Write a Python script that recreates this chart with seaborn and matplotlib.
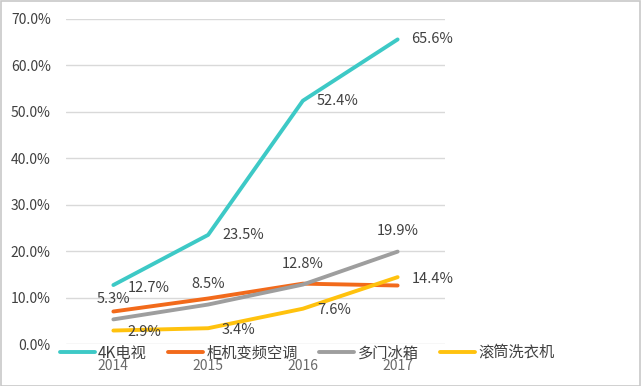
import matplotlib
matplotlib.use("Agg")
import matplotlib.pyplot as plt
import seaborn as sns
import pandas as pd
from matplotlib.lines import Line2D
from matplotlib.patches import Rectangle

years = ["2014", "2015", "2016", "2017"]
series_names = ["4K电视", "柜机变频空调", "多门冰箱", "滚筒洗衣机"]
tv_4k = [12.7, 23.5, 52.4, 65.6]
ac_inverter = [7.0, 9.8, 13.0, 12.6]
fridge_multi = [5.3, 8.5, 12.8, 19.9]
washer_drum = [2.9, 3.4, 7.6, 14.4]
y_ticks = [0, 10, 20, 30, 40, 50, 60, 70]

colors = ["#3DC9C6", "#F26A1B", "#9E9E9E", "#FFC20E"]
values = [tv_4k, ac_inverter, fridge_multi, washer_drum]

rows = []
for name, vals in zip(series_names, values):
    for i, (y, v) in enumerate(zip(years, vals)):
        rows.append({"year": i, "series": name, "value": v / 100})
df = pd.DataFrame(rows)

sns.set_theme(style="white")
plt.rcParams["font.family"] = ["Noto Sans CJK SC", "DejaVu Sans"]

fig = plt.figure(figsize=(6.41, 3.86), dpi=100)
ax = fig.add_axes([66 / 641, (386 - 344) / 386, (445 - 66) / 641, (344 - 19) / 386])

sns.lineplot(data=df, x="year", y="value", hue="series", hue_order=series_names,
             palette=colors, linewidth=2.8, ax=ax, legend=False, sort=False)

ax.set_xlim(-0.5, 3.5)
ax.set_ylim(0, 0.7)
ax.set_yticks([t / 100 for t in y_ticks])
ax.set_yticklabels([f"{t:.1f}%" for t in y_ticks], fontsize=10, color="#404040")
ax.set_xticks(range(len(years)))
ax.set_xticklabels(years, fontsize=10, color="#6a6a6a")
ax.tick_params(axis="y", length=0, pad=11)
ax.tick_params(axis="x", length=0, pad=11)
ax.set_xlabel("")
ax.set_ylabel("")
for s in ax.spines.values():
    s.set_visible(False)
ax.yaxis.grid(True, color="#d9d9d9", linewidth=1)
ax.set_axisbelow(True)

lbl_color = "#404040"
# 4K labels: right of point
for i, v in enumerate(tv_4k):
    dy = -2 if i == 0 else 0
    ax.annotate(f"{v:.1f}%", (i, v / 100), xytext=(10, dy), textcoords="offset points",
                ha="left", va="center", fontsize=10.5, color=lbl_color)
# multi-door fridge labels: above point
for i, v in enumerate(fridge_multi):
    ax.annotate(f"{v:.1f}%", (i, v / 100), xytext=(0, 15), textcoords="offset points",
                ha="center", va="center", fontsize=10.5, color=lbl_color)
# drum washer labels: right of point
for i, v in enumerate(washer_drum):
    ax.annotate(f"{v:.1f}%", (i, v / 100), xytext=(10, -1), textcoords="offset points",
                ha="left", va="center", fontsize=10.5, color=lbl_color)

handles = [Line2D([0], [0], color=c, lw=2.8) for c in colors]
fig.legend(handles, series_names, loc="center left", bbox_to_anchor=(52 / 641, (386 - 353) / 386),
           ncol=4, frameon=False, fontsize=11, handlelength=2.3, handletextpad=0.2,
           columnspacing=1.4, borderpad=0, labelcolor="#404040")

fig.patches.append(Rectangle((0.001, 0.001), 0.997, 0.997, transform=fig.transFigure,
                             fill=False, edgecolor="#c8c8c8", linewidth=1.2))

fig.savefig("out.png", dpi=100)
